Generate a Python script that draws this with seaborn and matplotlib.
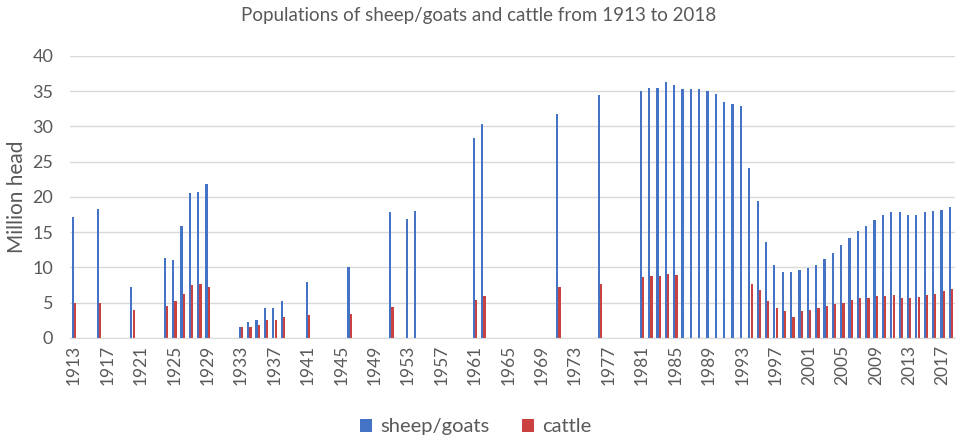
import numpy as np
import pandas as pd
import matplotlib
matplotlib.use('Agg')
import matplotlib.pyplot as plt
import seaborn as sns

years = list(range(1913, 2019))

sheep_years = [1913, 1916, 1920, 1924, 1925, 1926, 1927, 1928, 1929,
               1933, 1934, 1935, 1936, 1937, 1938, 1941, 1946, 1951, 1953, 1954,
               1961, 1962, 1971, 1976,
               1981, 1982, 1983, 1984, 1985, 1986, 1987, 1988, 1989, 1990,
               1991, 1992, 1993, 1994, 1995, 1996, 1997, 1998, 1999, 2000,
               2001, 2002, 2003, 2004, 2005, 2006, 2007, 2008, 2009, 2010,
               2011, 2012, 2013, 2014, 2015, 2016, 2017, 2018]
sheep_values = [17.1, 18.3, 7.2, 11.3, 11.1, 15.9, 20.6, 20.7, 21.8,
                1.6, 2.2, 2.5, 4.2, 4.2, 5.3, 8.0, 10.1, 17.9, 16.8, 18.0,
                28.4, 30.3, 31.7, 34.4,
                35.0, 35.5, 35.5, 36.3, 35.8, 35.3, 35.3, 35.3, 35.0, 34.6,
                33.4, 33.2, 32.9, 24.1, 19.4, 13.6, 10.3, 9.4, 9.4, 9.6,
                9.9, 10.4, 11.2, 12.1, 13.2, 14.2, 15.2, 15.9, 16.7, 17.5,
                17.8, 17.9, 17.5, 17.5, 17.8, 18.0, 18.2, 18.5]

cattle_years = [1913, 1916, 1920, 1924, 1925, 1926, 1927, 1928, 1929,
                1933, 1934, 1935, 1936, 1937, 1938, 1941, 1946, 1951,
                1961, 1962, 1971, 1976,
                1981, 1982, 1983, 1984, 1985,
                1994, 1995, 1996, 1997, 1998, 1999, 2000,
                2001, 2002, 2003, 2004, 2005, 2006, 2007, 2008, 2009, 2010,
                2011, 2012, 2013, 2014, 2015, 2016, 2017, 2018]
cattle_values = [4.9, 5.0, 4.0, 4.5, 5.2, 6.2, 7.5, 7.7, 7.2,
                 1.5, 1.5, 1.8, 2.6, 2.6, 3.0, 3.3, 3.4, 4.4,
                 5.4, 6.0, 7.2, 7.6,
                 8.6, 8.8, 8.8, 9.0, 8.9,
                 7.7, 6.8, 5.3, 4.2, 3.8, 2.9, 3.8,
                 4.0, 4.2, 4.5, 4.8, 5.0, 5.4, 5.6, 5.7, 5.9, 6.0,
                 6.1, 5.6, 5.6, 5.8, 6.1, 6.2, 6.6, 7.0]

df = pd.concat([
    pd.DataFrame({'year': [str(y) for y in sheep_years], 'value': sheep_values, 'series': 'sheep/goats'}),
    pd.DataFrame({'year': [str(y) for y in cattle_years], 'value': cattle_values, 'series': 'cattle'}),
])

sns.set_style('white')
plt.rcParams['font.family'] = ['Lato', 'DejaVu Sans']
text_color = '#595959'

fig = plt.figure(figsize=(9.57, 4.4), dpi=100)
ax = fig.add_axes([0.073, 0.232, 0.925, 0.641])

sns.barplot(data=df, x='year', y='value', hue='series',
            order=[str(y) for y in years], hue_order=['sheep/goats', 'cattle'],
            palette=['#4472C4', '#C9423F'], saturation=1,
            width=0.56, gap=0.05, linewidth=0, ax=ax)

ax.set_xlim(-0.5, len(years) - 0.5)
ax.set_ylim(0, 40)
ax.set_yticks(range(0, 41, 5))
ax.set_xticks(range(0, len(years), 4))
ax.set_xticklabels([str(y) for y in years[::4]], rotation=90)
ax.tick_params(axis='x', length=0, labelsize=12.5, colors=text_color, pad=5)
ax.tick_params(axis='y', length=0, labelsize=13, colors=text_color, pad=12)
ax.yaxis.grid(True, color='#D9D9D9', linewidth=1)
ax.set_axisbelow(True)
for s in ['top', 'right', 'left']:
    ax.spines[s].set_visible(False)
ax.spines['bottom'].set_color('#D9D9D9')
ax.set_xlabel('')
ax.set_ylabel('Million head', fontsize=15, color=text_color, labelpad=4)

handles, labels = ax.get_legend_handles_labels()
ax.get_legend().remove()
fig.legend(handles, labels, loc='center', bbox_to_anchor=(0.497, 0.03), ncol=2,
           frameon=False, fontsize=14.5, labelcolor=text_color,
           handlelength=0.6, handleheight=0.6, handletextpad=0.4, columnspacing=1.6)

fig.suptitle('Populations of sheep/goats and cattle from 1913 to 2018',
             fontsize=13.5, color=text_color, y=0.985)

fig.savefig('out.png', dpi=100)
